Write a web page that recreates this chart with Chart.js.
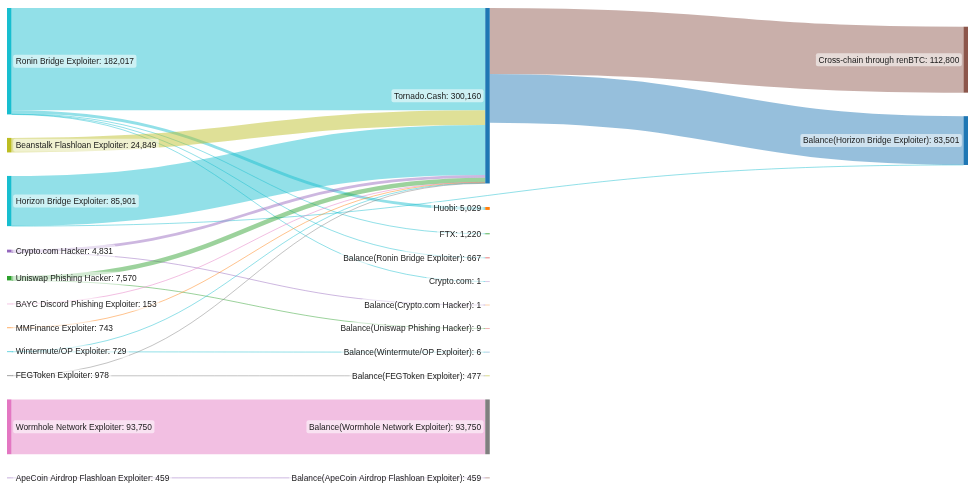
<!DOCTYPE html>
<html>
<head>
<meta charset="utf-8">
<title>Hacker fund flows</title>
<script src="https://cdn.jsdelivr.net/npm/chart.js"></script>
<style>
  html, body { margin: 0; padding: 0; background: #fff; }
  #wrap { width: 975px; height: 488px; }
</style>
</head>
<body>
<div id="wrap"><canvas id="sankeyChart"></canvas></div>
<script>
// nodes, top to bottom per column
const nodeNames = [
    'Ronin Bridge Exploiter',
    'Beanstalk Flashloan Exploiter',
    'Horizon Bridge Exploiter',
    'Crypto.com Hacker',
    'Uniswap Phishing Hacker',
    'BAYC Discord Phishing Exploiter',
    'MMFinance Exploiter',
    'Wintermute/OP Exploiter',
    'FEGToken Exploiter',
    'Wormhole Network Exploiter',
    'ApeCoin Airdrop Flashloan Exploiter',
    'Tornado.Cash',
    'Huobi',
    'FTX',
    'Balance(Ronin Bridge Exploiter)',
    'Crypto.com',
    'Balance(Crypto.com Hacker)',
    'Balance(Uniswap Phishing Hacker)',
    'Balance(Wintermute/OP Exploiter)',
    'Balance(FEGToken Exploiter)',
    'Balance(Wormhole Network Exploiter)',
    'Balance(ApeCoin Airdrop Flashloan Exploiter)',
    'Cross-chain through renBTC',
    'Balance(Horizon Bridge Exploiter)'
];

// flows
const linkFrom = [
    'Ronin Bridge Exploiter', 'Ronin Bridge Exploiter', 'Ronin Bridge Exploiter',
    'Ronin Bridge Exploiter', 'Ronin Bridge Exploiter',
    'Beanstalk Flashloan Exploiter',
    'Horizon Bridge Exploiter', 'Horizon Bridge Exploiter',
    'Crypto.com Hacker', 'Crypto.com Hacker',
    'Uniswap Phishing Hacker', 'Uniswap Phishing Hacker',
    'BAYC Discord Phishing Exploiter',
    'MMFinance Exploiter',
    'Wintermute/OP Exploiter', 'Wintermute/OP Exploiter',
    'FEGToken Exploiter', 'FEGToken Exploiter',
    'Wormhole Network Exploiter',
    'ApeCoin Airdrop Flashloan Exploiter',
    'Tornado.Cash', 'Tornado.Cash'
];
const linkTo = [
    'Tornado.Cash', 'Huobi', 'FTX',
    'Balance(Ronin Bridge Exploiter)', 'Crypto.com',
    'Tornado.Cash',
    'Tornado.Cash', 'Balance(Horizon Bridge Exploiter)',
    'Tornado.Cash', 'Balance(Crypto.com Hacker)',
    'Tornado.Cash', 'Balance(Uniswap Phishing Hacker)',
    'Tornado.Cash',
    'Tornado.Cash',
    'Tornado.Cash', 'Balance(Wintermute/OP Exploiter)',
    'Tornado.Cash', 'Balance(FEGToken Exploiter)',
    'Balance(Wormhole Network Exploiter)',
    'Balance(ApeCoin Airdrop Flashloan Exploiter)',
    'Cross-chain through renBTC', 'Balance(Horizon Bridge Exploiter)'
];
const linkValues = [
    175100, 5029, 1220,
    667, 1,
    24849,
    85700, 201,
    4830, 1,
    7561, 9,
    153,
    743,
    723, 6,
    501, 477,
    93750,
    459,
    112800, 83300
];

// styling
const nodeColors = [
    '#17becf', '#bcbd22', '#17becf', '#9467bd', '#2ca02c', '#e377c2',
    '#ff7f0e', '#17becf', '#7f7f7f', '#e377c2', '#9467bd',
    '#1f77b4', '#ff7f0e', '#2ca02c', '#d62728', '#9467bd', '#ff7f0e',
    '#d62728', '#1f77b4', '#bcbd22', '#7f7f7f', '#8c564b',
    '#8c564b', '#1f77b4'
];
const NODE_WIDTH = 4.5;
const PAD_FRAC = 0.05;     // gap between nodes, share of the full height
const ITERATIONS = 6;
const LINK_ALPHA = 0.47;
const FONT = '8.4px "Liberation Sans", Arial, Helvetica, sans-serif';

// sankey layout (port of d3-sankey, left aligned, input node order kept), in data units
function buildSankey() {
    const nodes = nodeNames.map((name, i) => ({
        name, index: i, color: nodeColors[i], sourceLinks: [], targetLinks: []
    }));
    const byName = {};
    nodes.forEach(n => byName[n.name] = n);
    const links = linkValues.map((v, i) => {
        const l = { index: i, source: byName[linkFrom[i]], target: byName[linkTo[i]], value: v };
        l.source.sourceLinks.push(l);
        l.target.targetLinks.push(l);
        return l;
    });
    const sum = (arr, f) => arr.reduce((s, d) => s + f(d), 0);
    nodes.forEach(n => {
        n.value = Math.max(sum(n.sourceLinks, l => l.value), sum(n.targetLinks, l => l.value));
    });

    let current = new Set(nodes), next = new Set(), x = 0;
    while (current.size) {
        for (const node of current) {
            node.depth = x;
            for (const l of node.sourceLinks) next.add(l.target);
        }
        x++;
        current = next;
        next = new Set();
    }
    const columns = [];
    nodes.forEach(n => {
        n.layer = n.depth;
        (columns[n.layer] = columns[n.layer] || []).push(n);
    });

    const maxLen = Math.max(...columns.map(c => c.length));
    const maxSum = Math.max(...columns.map(c => sum(c, n => n.value)));
    const y0 = 0;
    const y1 = maxSum / (1 - (maxLen - 1) * PAD_FRAC);
    const py = Math.min(PAD_FRAC * y1, (y1 - y0) / (maxLen - 1));

    const byBreadth = (a, b) => a.y0 - b.y0;
    const bySource = (a, b) => byBreadth(a.source, b.source) || a.index - b.index;
    const byTarget = (a, b) => byBreadth(a.target, b.target) || a.index - b.index;

    function reorderLinks(col) {
        for (const n of col) {
            n.sourceLinks.sort(byTarget);
            n.targetLinks.sort(bySource);
        }
    }
    function reorderNodeLinks(n) {
        for (const l of n.targetLinks) l.source.sourceLinks.sort(byTarget);
        for (const l of n.sourceLinks) l.target.targetLinks.sort(bySource);
    }
    function targetTop(source, target) {
        let y = source.y0 - (source.sourceLinks.length - 1) * py / 2;
        for (const l of source.sourceLinks) {
            if (l.target === target) break;
            y += l.width + py;
        }
        for (const l of target.targetLinks) {
            if (l.source === source) break;
            y -= l.width;
        }
        return y;
    }
    function sourceTop(source, target) {
        let y = target.y0 - (target.targetLinks.length - 1) * py / 2;
        for (const l of target.targetLinks) {
            if (l.source === source) break;
            y += l.width + py;
        }
        for (const l of source.sourceLinks) {
            if (l.target === target) break;
            y -= l.width;
        }
        return y;
    }
    function pushDown(col, y, i, alpha) {
        for (; i < col.length; ++i) {
            const n = col[i];
            const dy = (y - n.y0) * alpha;
            if (dy > 1e-6) { n.y0 += dy; n.y1 += dy; }
            y = n.y1 + py;
        }
    }
    function pushUp(col, y, i, alpha) {
        for (; i >= 0; --i) {
            const n = col[i];
            const dy = (n.y1 - y) * alpha;
            if (dy > 1e-6) { n.y0 -= dy; n.y1 -= dy; }
            y = n.y0 - py;
        }
    }
    function resolveCollisions(col, alpha) {
        const i = col.length >> 1;
        const subject = col[i];
        pushUp(col, subject.y0 - py, i - 1, alpha);
        pushDown(col, subject.y1 + py, i + 1, alpha);
        pushUp(col, y1, col.length - 1, alpha);
        pushDown(col, y0, 0, alpha);
    }

    // initial stacking
    const ky = Math.min(...columns.map(c => (y1 - y0 - (c.length - 1) * py) / sum(c, n => n.value)));
    for (const col of columns) {
        let y = y0;
        for (const n of col) {
            n.y0 = y;
            n.y1 = y + n.value * ky;
            y = n.y1 + py;
            for (const l of n.sourceLinks) l.width = l.value * ky;
        }
        y = (y1 - y + py) / (col.length + 1);
        col.forEach((n, i) => { n.y0 += y * (i + 1); n.y1 += y * (i + 1); });
        reorderLinks(col);
    }

    for (let it = 0; it < ITERATIONS; ++it) {
        const alpha = Math.pow(0.99, it);
        const beta = Math.max(1 - alpha, (it + 1) / ITERATIONS);
        // right to left
        for (let i = columns.length - 2; i >= 0; --i) {
            const col = columns[i];
            for (const source of col) {
                let y = 0, w = 0;
                for (const l of source.sourceLinks) {
                    const v = l.value * (l.target.layer - source.layer);
                    y += sourceTop(source, l.target) * v;
                    w += v;
                }
                if (!(w > 0)) continue;
                const dy = (y / w - source.y0) * alpha;
                source.y0 += dy; source.y1 += dy;
                reorderNodeLinks(source);
            }
            resolveCollisions(col, beta);
        }
        // left to right
        for (let i = 1; i < columns.length; ++i) {
            const col = columns[i];
            for (const target of col) {
                let y = 0, w = 0;
                for (const l of target.targetLinks) {
                    const v = l.value * (target.layer - l.source.layer);
                    y += targetTop(l.source, target) * v;
                    w += v;
                }
                if (!(w > 0)) continue;
                const dy = (y / w - target.y0) * alpha;
                target.y0 += dy; target.y1 += dy;
                reorderNodeLinks(target);
            }
            resolveCollisions(col, beta);
        }
    }

    // last column: centre its stack on the weighted centre of the nodes feeding it
    const last = columns[columns.length - 1];
    let ws = 0, wv = 0;
    for (const n of last) {
        for (const l of n.targetLinks) {
            ws += (l.source.y0 + l.source.y1) / 2 * l.value;
            wv += l.value;
        }
    }
    let shift = ws / wv - (last[0].y0 + last[last.length - 1].y1) / 2;
    shift = Math.max(y0 - last[0].y0, Math.min(y1 - last[last.length - 1].y1, shift));
    last.forEach(n => { n.y0 += shift; n.y1 += shift; });
    nodes.forEach(reorderNodeLinks);

    for (const n of nodes) {
        let a = n.y0, b = n.y0;
        for (const l of n.sourceLinks) { l.y0 = a + l.width / 2; a += l.width; }
        for (const l of n.targetLinks) { l.y1 = b + l.width / 2; b += l.width; }
    }
    return { nodes, links, columns, yMax: y1 };
}

const graph = buildSankey();
const lastLayer = graph.columns.length - 1;

function linkColor(l) {
    // first column flows take the source colour, later ones the target colour
    return l.source.layer === 0 ? l.source.color : l.target.color;
}

const sankeyPlugin = {
    id: 'sankeyDraw',
    beforeDatasetsDraw(chart) {
        const { ctx, scales: { x, y } } = chart;
        const px = v => Math.abs(y.getPixelForValue(v) - y.getPixelForValue(0));

        ctx.save();
        ctx.globalAlpha = LINK_ALPHA;
        ctx.lineCap = 'butt';
        for (const l of graph.links) {
            const xs = x.getPixelForValue(l.source.layer) + NODE_WIDTH;
            const xt = x.getPixelForValue(l.target.layer);
            const ys = y.getPixelForValue(l.y0);
            const yt = y.getPixelForValue(l.y1);
            const xm = (xs + xt) / 2;
            ctx.beginPath();
            ctx.moveTo(xs, ys);
            ctx.bezierCurveTo(xm, ys, xm, yt, xt, yt);
            ctx.strokeStyle = linkColor(l);
            ctx.lineWidth = Math.max(1, px(l.width));
            ctx.stroke();
        }
        ctx.restore();

        ctx.save();
        for (const n of graph.nodes) {
            const x0 = x.getPixelForValue(n.layer);
            let h = px(n.y1 - n.y0);
            ctx.globalAlpha = h < 1 ? 0.35 + 0.65 * h : 1;
            if (h < 1) h = 1;
            const mid = (y.getPixelForValue(n.y0) + y.getPixelForValue(n.y1)) / 2;
            ctx.fillStyle = n.color;
            ctx.fillRect(x0, mid - h / 2, NODE_WIDTH, h);
        }
        ctx.restore();
    },
    afterDatasetsDraw(chart) {
        const { ctx, scales: { x, y } } = chart;
        ctx.save();
        ctx.font = FONT;
        ctx.textBaseline = 'middle';
        for (const n of graph.nodes) {
            const text = n.name + ': ' + n.value.toLocaleString('en-US');
            const w = ctx.measureText(text).width;
            const cy = (y.getPixelForValue(n.y0) + y.getPixelForValue(n.y1)) / 2;
            const x0 = x.getPixelForValue(n.layer);
            const bx = n.layer === 0 ? x0 + NODE_WIDTH + 1.7 : x0 - 1.7 - (w + 5);
            ctx.fillStyle = 'rgba(255,255,255,0.55)';
            ctx.beginPath();
            ctx.roundRect(bx, cy - 6.5, w + 5, 13, 2);
            ctx.fill();
            ctx.fillStyle = '#1a1a1a';
            ctx.textAlign = 'left';
            ctx.fillText(text, bx + 2.5, cy + 0.5);
        }
        ctx.restore();
    }
};

const ctx = document.getElementById('sankeyChart').getContext('2d');
const chart = new Chart(ctx, {
    type: 'scatter',
    data: { datasets: [{ data: [], pointRadius: 0 }] },
    options: {
        responsive: true,
        maintainAspectRatio: false,
        animation: false,
        layout: { padding: { left: 7, right: 11.5, top: 8, bottom: 10 } },
        scales: {
            x: { type: 'linear', min: 0, max: lastLayer, display: false },
            y: { type: 'linear', min: 0, max: graph.yMax, reverse: true, display: false }
        },
        plugins: {
            legend: { display: false },
            tooltip: { enabled: false }
        }
    },
    plugins: [sankeyPlugin]
});
</script>
</body>
</html>
